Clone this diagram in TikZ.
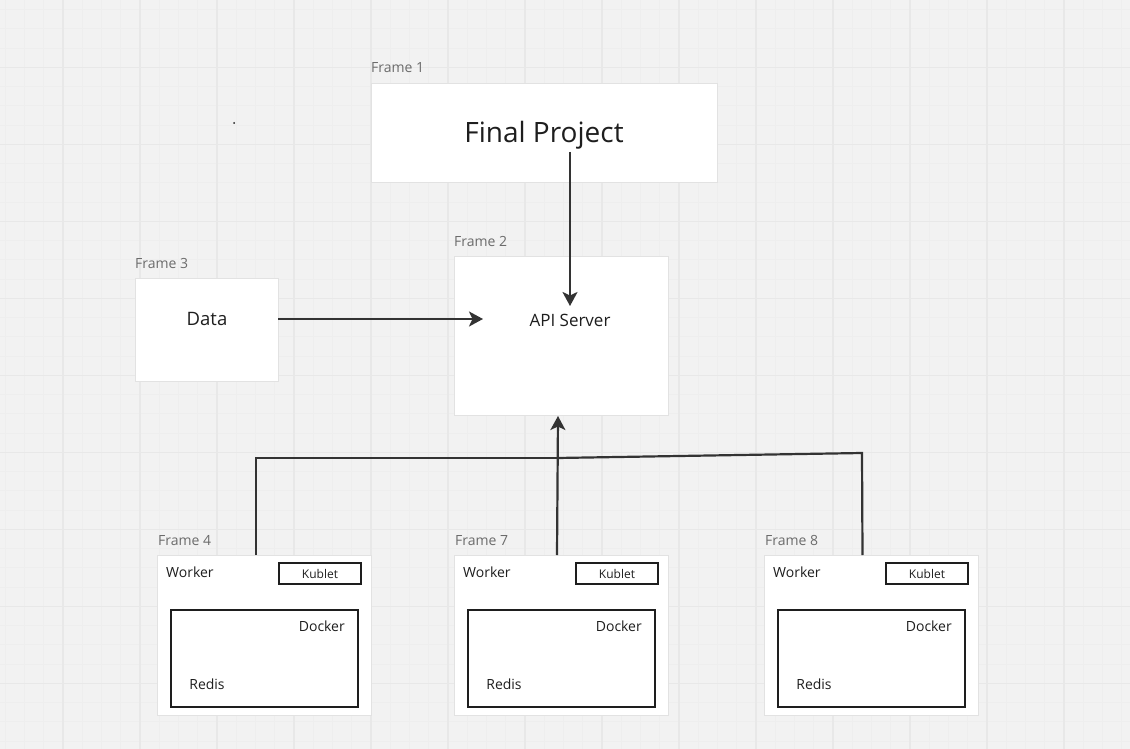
\documentclass[tikz,border=0pt]{standalone}
\usepackage{fontspec}
\setmainfont{Open Sans}
\usetikzlibrary{arrows.meta}
\definecolor{bg}{HTML}{F2F2F2}
\definecolor{minorgrid}{HTML}{EEEEEE}
\definecolor{majorgrid}{HTML}{E8E8E8}
\definecolor{framegray}{HTML}{E2E2E2}
\definecolor{labelgray}{HTML}{6B6B6B}
\definecolor{ink}{HTML}{1E1E1E}
\definecolor{wire}{HTML}{333333}
\tikzset{
  framebox/.style={draw=framegray, line width=0.8pt, fill=white, inner sep=0pt, outer sep=0pt},
  framelabel/.style={anchor=west, text=labelgray, font=\fontsize{14}{16}\selectfont, inner sep=0pt},
  txt/.style={text=ink, inner sep=1pt},
  innerbox/.style={draw=ink, line width=2pt, fill=white, inner sep=0pt, outer sep=0pt},
  wireline/.style={draw=wire, line width=2.2pt},
  arr/.style={wireline, -{Stealth[length=14pt, width=15pt, inset=3.5pt]}},
}
\begin{document}
\begin{tikzpicture}[x=1pt, y=-1pt]
\useasboundingbox (0,0) rectangle (1130,749);
\fill[bg] (0,0) rectangle (1130,749);
% grid
\foreach \i in {0,...,58} {
  \draw[minorgrid, line width=0.8pt] ({5.25+19.25*\i},0) -- ({5.25+19.25*\i},749);
}
\foreach \i in {0,...,38} {
  \draw[minorgrid, line width=0.8pt] (0,{9.5+19.25*\i}) -- (1130,{9.5+19.25*\i});
}
\foreach \i in {0,...,14} {
  \draw[majorgrid, line width=1.5pt] ({63+77*\i},0) -- ({63+77*\i},749);
}
\foreach \i in {0,...,9} {
  \draw[majorgrid, line width=1.5pt] (0,{67.3+77*\i}) -- (1130,{67.3+77*\i});
}
% stray dot
\fill[ink] (234,123) circle (1pt);

% Frame 1
\node[framelabel] (l1) at (371,68) {Frame 1};
\node[framebox, minimum width=346pt, minimum height=99pt] (f1) at (544,132.5) {};
\node[txt, font=\fontsize{28}{32}\selectfont] (fp) at (544,135) {Final Project};

% Frame 2
\node[framelabel] (l2) at (454,241) {Frame 2};
\node[framebox, minimum width=214pt, minimum height=159pt] (f2) at (561,335.5) {};
\node[txt, font=\fontsize{17}{20}\selectfont] (api) at (570,320) {API Server};

% Frame 3
\node[framelabel] (l3) at (135,263) {Frame 3};
\node[framebox, minimum width=143pt, minimum height=103pt] (f3) at (206.5,329.5) {};
\node[txt, font=\fontsize{18.5}{22}\selectfont] (data) at (207,319) {Data};

% Workers
\foreach \n/\fx/\lab in {4/157/Frame 4, 7/454/Frame 7, 8/764/Frame 8} {
  \node[framelabel] (l\n) at ({\fx+1},540.5) {\lab};
  \node[framebox, minimum width=214pt, minimum height=160pt] (f\n) at ({\fx+107},635) {};
  \node[txt, anchor=west, inner sep=0pt, font=\fontsize{14}{17}\selectfont] (wk\n) at ({\fx+9},572) {Worker};
  \node[innerbox, line width=1.8pt, minimum width=82pt, minimum height=21pt, font=\fontsize{12}{14}\selectfont, text=ink] (kb\n) at ({\fx+163},573.5) {Kublet};
  \node[innerbox, minimum width=187pt, minimum height=97pt] (dk\n) at ({\fx+107.5},658.5) {};
  \node[txt, anchor=east, inner sep=0pt, font=\fontsize{14}{17}\selectfont] (dt\n) at ({\fx+188},626.5) {Docker};
  \node[txt, inner sep=0pt, font=\fontsize{14}{17}\selectfont] (rd\n) at ({\fx+50},684.5) {Redis};
}

% connectors
\coordinate (fpend) at (570,306);
\coordinate (fpstart) at (570,152);
\draw[arr] (fpstart) -- (fpend);

\coordinate (dataend) at (483,319);
\draw[arr] (data -| f3.east) -- (dataend);

\coordinate (j) at (557,458);
\coordinate (j8) at (862,453);
\coordinate (apibottom) at (558,416);
\draw[wireline] ([xshift=-8pt]f4.north) |- (j);
\draw[wireline] ([xshift=-8.5pt]f8.north) -- (j8) -- (j);
\draw[arr] ([xshift=-4pt]f7.north) -- (apibottom);
\end{tikzpicture}
\end{document}
